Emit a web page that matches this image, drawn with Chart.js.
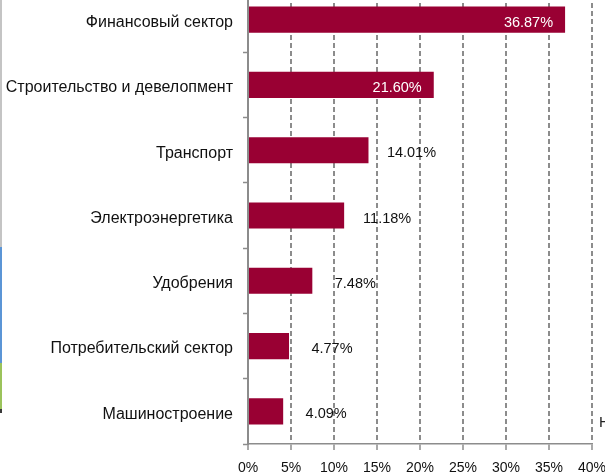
<!DOCTYPE html>
<html>
<head>
<meta charset="utf-8">
<script src="https://cdn.jsdelivr.net/npm/chart.js@4/dist/chart.umd.min.js"></script>
<style>
  html, body { margin: 0; padding: 0; background: #fff; overflow: hidden; width: 605px; height: 475px; }
  #wrap { position: relative; width: 605px; height: 475px; overflow: hidden; }
  #graphCanvas { position: absolute; left: 0; top: -13px; }
  .edge { position: absolute; left: 0; width: 2px; }
  #cut { position: absolute; left: 599px; top: 413px; font: 15px "Liberation Sans", Arial, sans-serif; color: #222; }
</style>
</head>
<body>
<div id="wrap">
  <canvas id="graphCanvas" width="625" height="488"></canvas>
  <div class="edge" style="top:0;height:247px;background:#c4c4c4"></div>
  <div class="edge" style="top:247px;height:116px;background:#5b95d6"></div>
  <div class="edge" style="top:363px;height:46px;background:#9bc35b"></div>
  <div class="edge" style="top:409px;height:4px;background:#3a3a3a"></div>
  <span id="cut">Н</span>
</div>
<script>
var sectors = [
  'Финансовый сектор',
  'Строительство и девелопмент',
  'Транспорт',
  'Электроэнергетика',
  'Удобрения',
  'Потребительский сектор',
  'Машиностроение'
];
var shares = [36.87, 21.60, 14.01, 11.18, 7.48, 4.77, 4.09];
var xTicks = [0, 5, 10, 15, 20, 25, 30, 35, 40];

var font = '"Liberation Sans", Arial, sans-serif';

var valueLabels = {
  id: 'valueLabels',
  afterDatasetsDraw: function (chart) {
    var ctx = chart.ctx;
    var bars = chart.getDatasetMeta(0).data;
    ctx.save();
    ctx.font = '14.5px ' + font;
    ctx.textBaseline = 'middle';
    bars.forEach(function (bar, i) {
      var txt = shares[i].toFixed(2) + '%';
      if (shares[i] > 20) {
        ctx.fillStyle = '#ffffff';
        ctx.textAlign = 'right';
        ctx.fillText(txt, bar.x - 12, bar.y + 3);
      } else {
        ctx.fillStyle = '#111111';
        ctx.textAlign = 'center';
        ctx.fillText(txt, bar.x + 43, bar.y + 3);
      }
    });
    ctx.restore();
  }
};

function showGraph() {
  var chartdata = {
    labels: sectors,
    datasets: [{
      data: shares,
      backgroundColor: '#990033',
      borderWidth: 0,
      categoryPercentage: 1,
      barPercentage: 0.4
    }]
  };

  new Chart(document.getElementById('graphCanvas'), {
    type: 'bar',
    data: chartdata,
    plugins: [valueLabels],
    options: {
      indexAxis: 'y',
      responsive: false,
      animation: false,
      devicePixelRatio: 1,
      layout: { padding: { top: 0, right: 33, bottom: 0, left: 0 } },
      plugins: { legend: { display: false }, tooltip: { enabled: false } },
      scales: {
        x: {
          min: 0,
          max: 40,
          afterBuildTicks: function (scale) {
            scale.ticks = xTicks.map(function (v) { return { value: v }; });
          },
          afterFit: function (scale) {
            scale.height = 31;
            scale.paddingLeft = 0;
            scale.paddingRight = 0;
          },
          ticks: {
            callback: function (v) { return v + '%'; },
            color: '#111',
            font: { family: font, size: 14 },
            padding: 10,
            maxRotation: 0,
            autoSkip: false
          },
          grid: {
            color: function (c) { return c.index === 0 ? 'rgba(0,0,0,0)' : '#8c8c8c'; },
            lineWidth: 2,
            tickLength: 6,
            tickColor: '#8c8c8c',
            tickWidth: 1.5
          },
          border: { color: '#8c8c8c', width: 1.5, dash: [5, 3] }
        },
        y: {
          afterFit: function (scale) {
            scale.width = 248;
            scale.paddingTop = 0;
            scale.paddingBottom = 0;
          },
          ticks: {
            color: '#111',
            font: { family: font, size: 16 },
            padding: 10,
            labelOffset: 3
          },
          grid: {
            drawOnChartArea: false,
            tickLength: 5,
            tickColor: '#8c8c8c',
            tickWidth: 1.5
          },
          border: { color: '#8c8c8c', width: 2 }
        }
      }
    }
  });
}

showGraph();
</script>
</body>
</html>
